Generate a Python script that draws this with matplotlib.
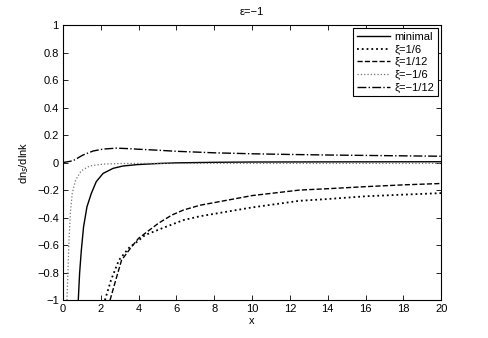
import matplotlib
matplotlib.use("Agg")
import matplotlib.pyplot as plt

# values
x_min = [0.81, 0.88, 0.97, 1.09, 1.27, 1.5, 1.76, 2.12, 2.65, 3.17, 3.9, 5.0, 6.0, 8.0, 10.0, 14.0, 20.0]
y_min = [-1.0, -0.806, -0.64, -0.467, -0.321, -0.224, -0.139, -0.079, -0.042, -0.025, -0.015, -0.007, -0.002, 0.002, 0.004, 0.005, 0.006]

x_p6 = [2.22, 2.54, 2.96, 3.54, 3.81, 4.34, 5.22, 6.37, 7.25, 10.0, 12.5, 14.0, 16.0, 18.0, 20.0]
y_p6 = [-1.0, -0.855, -0.709, -0.612, -0.588, -0.527, -0.479, -0.418, -0.39, -0.326, -0.278, -0.265, -0.245, -0.233, -0.222]

x_p12 = [2.49, 2.79, 3.1, 3.63, 3.99, 4.34, 5.04, 5.75, 6.37, 7.25, 10.0, 12.5, 14.0, 16.0, 18.0, 20.0]
y_p12 = [-1.0, -0.855, -0.709, -0.612, -0.552, -0.515, -0.442, -0.382, -0.345, -0.31, -0.24, -0.2, -0.19, -0.175, -0.162, -0.152]

x_m6 = [0.21, 0.26, 0.32, 0.39, 0.49, 0.67, 0.97, 1.41, 2.12, 3.0, 4.0, 6.0, 10.0, 20.0]
y_m6 = [-1.0, -0.806, -0.564, -0.37, -0.224, -0.127, -0.059, -0.025, -0.011, -0.007, -0.006, -0.006, -0.006, -0.006]

x_m12 = [0.0, 0.53, 1.06, 1.59, 2.12, 2.82, 3.5, 4.0, 5.0, 6.0, 8.0, 10.0, 12.0, 14.0, 16.0, 18.0, 20.0]
y_m12 = [0.0, 0.013, 0.055, 0.084, 0.098, 0.105, 0.101, 0.097, 0.09, 0.082, 0.071, 0.064, 0.059, 0.055, 0.052, 0.049, 0.046]

xticks = [0, 2, 4, 6, 8, 10, 12, 14, 16, 18, 20]
yticks = [-1, -0.8, -0.6, -0.4, -0.2, 0, 0.2, 0.4, 0.6, 0.8, 1]
ytick_labels = ['\u22121', '\u22120.8', '\u22120.6', '\u22120.4', '\u22120.2', '0',
                '0.2', '0.4', '0.6', '0.8', '1']

plt.rcParams['font.family'] = ['Liberation Sans', 'DejaVu Sans']
plt.rcParams['font.size'] = 8

fig = plt.figure(figsize=(4.88, 3.38), dpi=100)
ax = fig.add_axes([0.129, 0.112, 0.775, 0.814])

ax.plot(x_min, y_min, '-', color='black', lw=1.0, label='minimal')
ax.plot(x_p6, y_p6, ':', color='black', lw=1.3, label='\u03be=1/6')
ax.plot(x_p12, y_p12, '--', color='black', lw=1.0, label='\u03be=1/12')
ax.plot(x_m6, y_m6, ':', color='0.45', lw=0.9, label='\u03be=\u22121/6')
ax.plot(x_m12, y_m12, '-.', color='black', lw=1.0, label='\u03be=\u22121/12')

ax.set_xlim(0, 20)
ax.set_ylim(-1, 1)
ax.set_xticks(xticks)
ax.set_yticks(yticks)
ax.set_yticklabels(ytick_labels)
ax.tick_params(direction='in', top=True, right=True, length=3.5, width=0.6, pad=3)
for s in ax.spines.values():
    s.set_linewidth(0.8)

ax.set_title('\u03b5=\u22121', fontsize=8, pad=7)
ax.set_xlabel('x', labelpad=1)
ax.set_ylabel('dn$_s$/dlnk', labelpad=4)

leg = ax.legend(loc='upper right', fontsize=8, fancybox=False, framealpha=1,
                edgecolor='black', handlelength=3.0, handletextpad=0.4,
                labelspacing=0.25, borderpad=0.3, borderaxespad=0.3)
leg.get_frame().set_linewidth(0.8)

fig.savefig('out.png', dpi=100)
